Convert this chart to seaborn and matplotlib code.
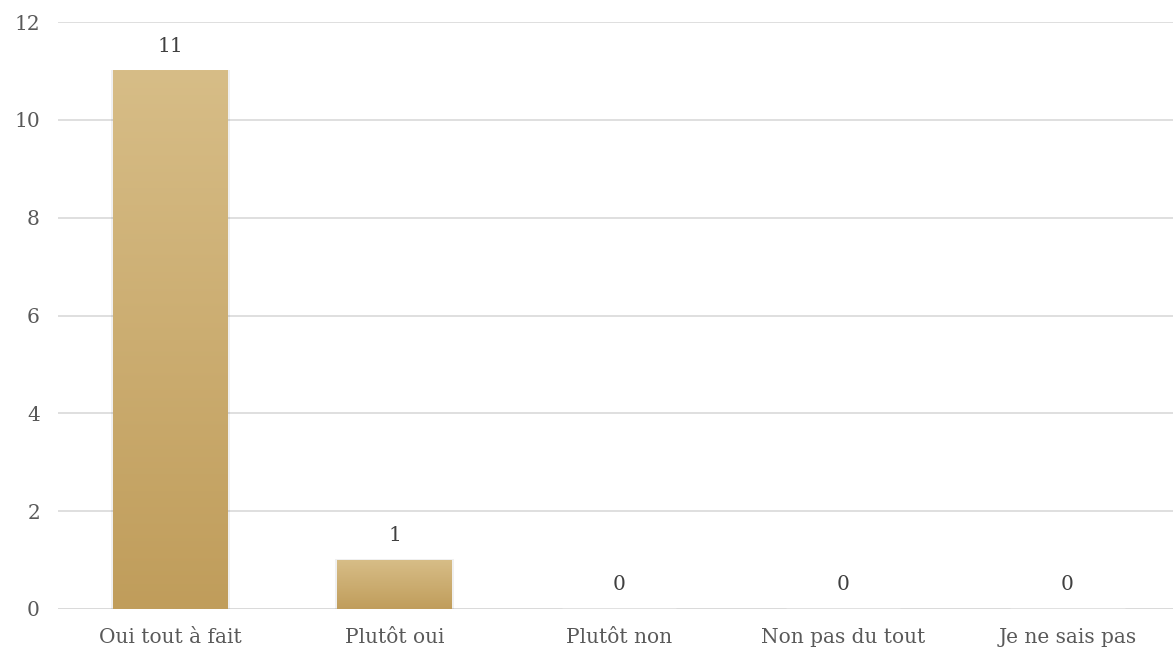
import numpy as np
import matplotlib
matplotlib.use("Agg")
import matplotlib.pyplot as plt
import seaborn as sns

categories = ["Oui tout à fait", "Plutôt oui", "Plutôt non", "Non pas du tout", "Je ne sais pas"]
counts = [11, 1, 0, 0, 0]

sns.set_style("white")
plt.rcParams["font.family"] = ["DejaVu Serif"]

fig = plt.figure(figsize=(11.73, 6.54), dpi=100)
ax = fig.add_axes([58 / 1173, 45 / 654, 1 - 58 / 1173, 587 / 654])

sns.barplot(x=categories, y=counts, color="#CCAD6F", width=0.51, ax=ax, zorder=3)

# vertical gold gradient on each bar
grad = np.linspace(0, 1, 256).reshape(-1, 1)
cmap = matplotlib.colors.LinearSegmentedColormap.from_list("gold", ["#C09D5B", "#D7BD87"])
for p in ax.patches:
    x0, y0 = p.get_x(), p.get_y()
    w, h = p.get_width(), p.get_height()
    if h <= 0:
        continue
    p.set_facecolor("none")
    p.set_edgecolor("none")
    ax.imshow(grad, extent=[x0, x0 + w, y0, y0 + h], origin="lower", cmap=cmap,
              aspect="auto", zorder=3)
    # soft shadow
    ax.add_patch(plt.Rectangle((x0 - 0.01, y0), w + 0.02, h + 0.02, facecolor="#000000",
                               alpha=0.06, edgecolor="none", zorder=2))

for i, v in enumerate(counts):
    ax.annotate(str(v), (i, v), xytext=(0, 11), textcoords="offset points",
                ha="center", va="bottom", fontsize=14.5, color="#404040")

ax.set_xlim(-0.5, 4.47)
ax.set_ylim(0, 12)
ax.set_yticks(range(0, 13, 2))
ax.yaxis.grid(True, color="#D9D9D9", linewidth=1.2, zorder=0)
ax.set_axisbelow(True)
for s in ax.spines.values():
    s.set_visible(False)
ax.axhline(0, color="#D9D9D9", linewidth=1.2, zorder=1)
ax.tick_params(axis="both", length=0, labelsize=14.5, labelcolor="#595959")
ax.tick_params(axis="y", pad=13)
ax.tick_params(axis="x", pad=14)
ax.set_xlabel("")
ax.set_ylabel("")

fig.savefig("out.png", dpi=100)
